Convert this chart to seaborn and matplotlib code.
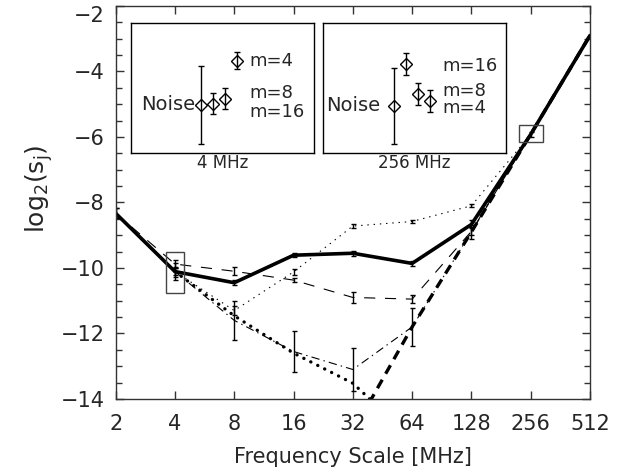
import numpy as np
import pandas as pd
import matplotlib
matplotlib.use("Agg")
import matplotlib.pyplot as plt
import seaborn as sns
from matplotlib.patches import Rectangle
from matplotlib.ticker import MultipleLocator, NullLocator, FixedLocator

sns.set_theme(style="ticks")
plt.rcParams['font.family'] = ['DejaVu Sans']
plt.rcParams['lines.scale_dashes'] = False

# ---------------- data ----------------
freq = [2, 4, 8, 16, 32, 64, 128, 256, 512]
freq_labels = ["2", "4", "8", "16", "32", "64", "128", "256", "512"]
yticks = [-14, -12, -10, -8, -6, -4, -2]

solid_freq = [2, 4, 8, 16, 32, 64, 128, 256, 512]
solid_val = [-8.33, -10.11, -10.45, -9.61, -9.55, -9.86, -8.67, -5.92, -2.9]
solid_err = [0.15, 0.15, 0.08, 0.06, 0.08, 0.08, 0.12, 0.08, 0.0]

longdash_freq = [2, 4, 8, 16, 32, 64, 128, 256, 512]
longdash_val = [-8.33, -9.88, -10.1, -10.37, -10.9, -10.95, -8.88, -5.92, -2.9]
longdash_err = [0.15, 0.12, 0.12, 0.06, 0.18, 0.13, 0.12, 0.0, 0.0]

dotted_freq = [4, 8, 16, 32, 64, 128, 256, 512]
dotted_val = [-10.11, -11.3, -10.12, -8.72, -8.58, -8.1, -5.92, -2.9]
dotted_err = [0.1, 0.15, 0.09, 0.06, 0.05, 0.05, 0.0, 0.0]

dashdot_freq = [4, 8, 16, 32, 64, 128, 256, 512]
dashdot_val = [-10.11, -11.6, -12.55, -13.1, -11.8, -8.9, -5.92, -2.9]
dashdot_err = [0.25, 0.6, 0.62, 0.65, 0.59, 0.22, 0.0, 0.0]

thickdot_freq = [4, 8, 16, 32, 64]
thickdot_val = [-10.11, -11.46, -12.6, -13.52, -15.2]

thickdash_freq = [32, 64, 128, 256, 512]
thickdash_val = [-15.0, -11.8, -8.9, -5.92, -2.9]

box_freq = [4, 256]
box_val = [-10.14, -5.9]

inset_labels = ["Noise", "m=16", "m=8", "m=4"]
inset_pos = [0, 1, 2, 3]
ins4_val = [-10.30, -10.29, -10.24, -9.87]
ins4_err = [0.38, 0.10, 0.10, 0.08]
ins256_val = [-5.972, -5.802, -5.924, -5.951]
ins256_err = [0.156, 0.045, 0.044, 0.044]

# ---------------- figure ----------------
fig = plt.figure(figsize=(6.37, 4.72), dpi=100)
ax = fig.add_axes([0.1816, 0.1547, 0.7446, 0.8326])

def draw(fx, vals, **kw):
    df = pd.DataFrame({"freq": fx, "val": vals})
    sns.lineplot(data=df, x="freq", y="val", ax=ax, color="black",
                 errorbar=None, sort=False, legend=False, **kw)

draw(solid_freq, solid_val, linewidth=2.6, solid_capstyle="round", solid_joinstyle="round")
draw(longdash_freq, longdash_val, linewidth=0.8, linestyle=(0, (8, 7)))
draw(dotted_freq, dotted_val, linewidth=0.8, linestyle=(0, (1, 3.5)))
draw(dashdot_freq, dashdot_val, linewidth=0.8, linestyle=(0, (6, 3, 1, 3)))
draw(thickdot_freq, thickdot_val, linewidth=2.4, linestyle=(0, (0.1, 5.5)),
     dash_capstyle="round")
draw(thickdash_freq, thickdash_val, linewidth=2.4, linestyle=(0, (7, 5)))

eb = dict(fmt="none", ecolor="black", elinewidth=1.0, capsize=1.8, capthick=1.0)
for fx, v, e in [(solid_freq, solid_val, solid_err),
                 (longdash_freq, longdash_val, longdash_err),
                 (dotted_freq, dotted_val, dotted_err),
                 (dashdot_freq, dashdot_val, dashdot_err)]:
    fx = np.array(fx); v = np.array(v); e = np.array(e)
    m = e > 0
    ax.errorbar(fx[m], v[m], yerr=e[m], **eb)

ax.set_xscale("log", base=2)
ax.set_xlim(2, 512)
ax.set_ylim(-14, -2)

# highlight boxes
box_halfw = [0.146, 0.2025]
box_halfh = [0.635, 0.265]
for f, v, hw, hh in zip(box_freq, box_val, box_halfw, box_halfh):
    x0 = f * 2 ** (-hw)
    x1 = f * 2 ** hw
    ax.add_patch(Rectangle((x0, v - hh), x1 - x0, 2 * hh, fill=False,
                           edgecolor="#444444", linewidth=1.0, zorder=5))

ax.xaxis.set_major_locator(FixedLocator(freq))
ax.xaxis.set_minor_locator(NullLocator())
ax.set_xticks(freq)
ax.set_xticklabels(freq_labels)
ax.set_yticks(yticks)
ax.set_yticklabels(["\u2212" + str(abs(t)) for t in yticks])
ax.yaxis.set_minor_locator(MultipleLocator(0.5))
ax.tick_params(axis="both", which="both", direction="in", top=True, right=True,
               color="#333333", labelsize=15, width=1.0)
ax.tick_params(axis="both", which="major", length=6)
ax.tick_params(axis="y", which="minor", length=4)
ax.tick_params(axis="x", which="major", pad=11)
ax.tick_params(axis="y", which="major", pad=8)
for s in ax.spines.values():
    s.set_color("#333333")
    s.set_linewidth(1.0)
# keep the top y label inside the figure
ax.get_yticklabels()[-1].set_verticalalignment("top")

ax.set_xlabel("Frequency Scale [MHz]", fontsize=15)
ax.set_ylabel(r"$\mathregular{log_2(s_j)}$", fontsize=18)
ax.yaxis.set_label_coords(-0.128, 0.535)
ax.xaxis.set_label_coords(0.5, -0.122)

# ---------------- insets ----------------
def make_inset(left_px, right_px, ylim, vals, errs, noise_x, m_x, ys, title):
    ins = fig.add_axes([left_px / 637, 1 - 153.3 / 472,
                        (right_px - left_px) / 637, 130 / 472])
    ins.set_xlim(-5.88, 9.39)
    ins.set_ylim(*ylim)
    ins.set_xticks([]); ins.set_yticks([])
    for s in ins.spines.values():
        s.set_color("black"); s.set_linewidth(1.0)
    ins.errorbar(inset_pos, vals, yerr=errs, fmt="D", mfc="none", mec="black",
                 mew=1.0, ms=6.5, ecolor="black", elinewidth=1.0,
                 capsize=2.5, capthick=1.0)
    ins.text(noise_x, ys[0], inset_labels[0], transform=ins.transAxes,
             ha="right", va="center", fontsize=14)
    for lab, yy in zip(inset_labels[1:], ys[1:]):
        ins.text(m_x, yy, lab, transform=ins.transAxes,
                 ha="left", va="center", fontsize=13)
    ins.text(0.5, -0.075, title, transform=ins.transAxes, ha="center",
             va="center", fontsize=12)
    return ins

make_inset(130.7, 314.0, (-10.775, -9.505), ins4_val, ins4_err,
           0.351, 0.648, [0.372, 0.32, 0.46, 0.712], "4 MHz")
make_inset(323.3, 506.0, (-6.165, -5.635), ins256_val, ins256_err,
           0.310, 0.651, [0.364, 0.672, 0.482, 0.346], "256 MHz")

fig.savefig("out.png", dpi=100)
